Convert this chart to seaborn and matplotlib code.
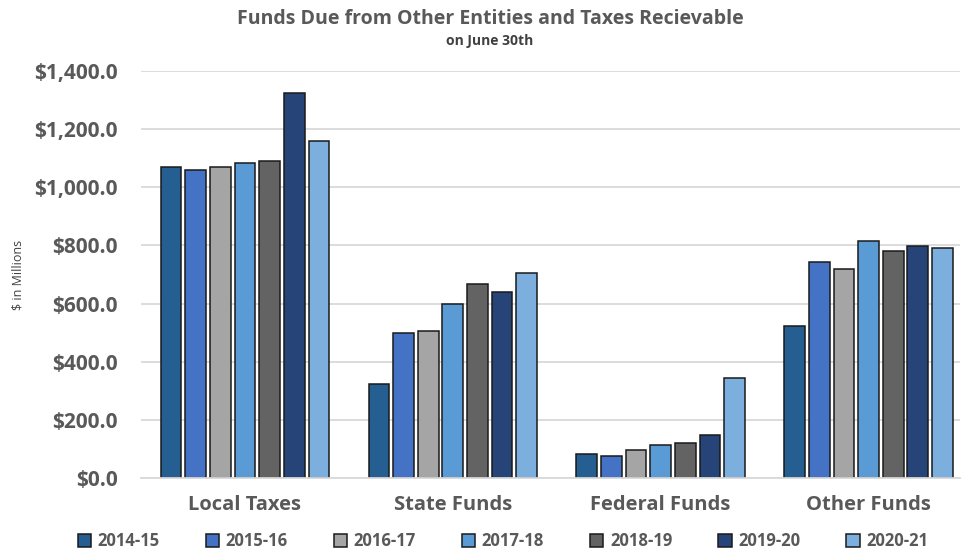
import matplotlib
matplotlib.use("Agg")
import matplotlib.pyplot as plt
import seaborn as sns
import pandas as pd
from matplotlib.patches import Patch
from matplotlib.ticker import FuncFormatter

categories = ["Local Taxes", "State Funds", "Federal Funds", "Other Funds"]
years = ["2014-15", "2015-16", "2016-17", "2017-18", "2018-19", "2019-20", "2020-21"]
v_2014_15 = [1069, 323, 81, 523]
v_2015_16 = [1060, 500, 77, 742]
v_2016_17 = [1069, 507, 96, 720]
v_2017_18 = [1084, 597, 112, 815]
v_2018_19 = [1091, 667, 120, 780]
v_2019_20 = [1326, 640, 148, 799]
v_2020_21 = [1159, 704, 345, 792]
series = [v_2014_15, v_2015_16, v_2016_17, v_2017_18, v_2018_19, v_2019_20, v_2020_21]
colors = ["#255E91", "#4472C4", "#A5A5A5", "#5B9BD5", "#636363", "#264478", "#7CAFDD"]

rows = []
for y, vals in zip(years, series):
    for c, v in zip(categories, vals):
        rows.append({"Category": c, "Year": y, "Value": v})
df = pd.DataFrame(rows)

sns.set_style("white")
plt.rcParams["font.family"] = ["Open Sans", "DejaVu Sans"]
gray = "#595959"

fig = plt.figure(figsize=(9.66, 5.5), dpi=100)
ax = fig.add_axes([141/966, 1 - 478/550, (960 - 141)/966, (478 - 71)/550])

sns.barplot(data=df, x="Category", y="Value", hue="Year", order=categories,
            hue_order=years, palette=colors, width=0.83, gap=0.16,
            edgecolor="#1a1a1a", linewidth=1.1, saturation=1, ax=ax, legend=False)

ax.set_ylim(0, 1400)
ax.set_xlim(-0.5, 3.44)
ax.set_yticks(range(0, 1401, 200))
ax.yaxis.set_major_formatter(FuncFormatter(lambda v, p: f"${v:,.1f}"))
ax.grid(axis="y", color="#D9D9D9", linewidth=1.3)
ax.set_axisbelow(True)
for s in ["left", "right", "top"]:
    ax.spines[s].set_visible(False)
ax.spines["bottom"].set_color("#D9D9D9")
ax.spines["bottom"].set_linewidth(1.3)
ax.tick_params(axis="y", length=0, pad=17, labelsize=15, labelcolor=gray)
ax.tick_params(axis="x", length=0, pad=12, labelsize=14.5, labelcolor=gray)
for lab in ax.get_yticklabels() + ax.get_xticklabels():
    lab.set_fontweight("bold")
ax.set_xlabel("")
ax.set_ylabel("")

fig.text(18/966, 1 - 275/550, "$ in Millions", rotation=90, ha="center", va="center",
         fontsize=9, color="#404040")
fig.text(490/966, 1 - 19/550, "Funds Due from Other Entities and Taxes Recievable",
         ha="center", va="center", fontsize=14, fontweight="bold", color=gray)
fig.text(490/966, 1 - 41/550, "on June 30th", ha="center", va="center",
         fontsize=10, fontweight="bold", color="#404040")

handles = [Patch(facecolor=c, edgecolor="#1a1a1a", linewidth=1.1) for c in colors]
leg = fig.legend(handles, years, loc="center", bbox_to_anchor=(503/966, 1 - 541/550),
                 ncol=7, frameon=False, handlelength=0.8, handleheight=0.8,
                 handletextpad=0.4, columnspacing=2.75,
                 prop={"size": 12, "weight": "bold"})
for t in leg.get_texts():
    t.set_color(gray)

fig.savefig("out.png", dpi=100)
